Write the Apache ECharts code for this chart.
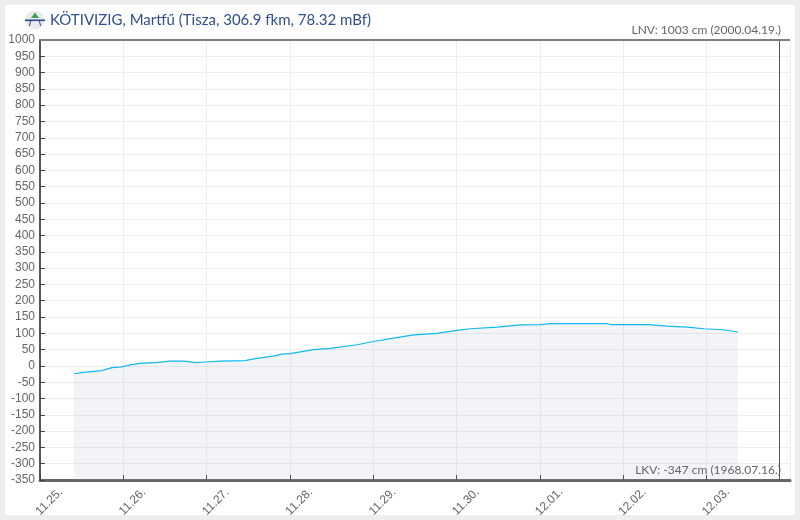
<!DOCTYPE html>
<html>
<head>
<meta charset="utf-8">
<style>
html, body { margin: 0; padding: 0; background: #eeeeee; }
#app { width: 800px; height: 520px; }
</style>
<script src="https://cdn.jsdelivr.net/npm/echarts@6/dist/echarts.min.js"></script>
</head>
<body>
<div id="app"></div>
<script>
// hours since 11.25. 00:00
var hours = [9.8, 12.5, 17.8, 20.7, 23.5, 26.4, 28.8, 34, 37.5, 41.3, 45, 47.6, 51.9, 59, 62.4, 67.2, 69.7, 72, 78.8, 83.6, 91.3, 96, 100.9, 107.6, 114.3, 120, 124, 131.6, 138.3, 144, 147, 163.3, 164.3, 175.3, 180.6, 186.4, 191.2, 196.8, 201];
// water level, cm
var levels = [-24, -20, -14.5, -5, -3, 4, 8, 11, 15, 15, 10, 12, 15, 16, 23, 30, 36, 38, 50, 54, 65, 75, 84, 95, 100, 109, 114, 119, 126, 127, 130, 130, 127, 127, 122, 119, 114, 111, 104];
var dayLabels = ['11.25.', '11.26.', '11.27.', '11.28.', '11.29.', '11.30.', '12.01.', '12.02.', '12.03.'];
var nowHour = 212.9;
var titleText = 'KÖTIVIZIG, Martfű (Tisza, 306.9 fkm, 78.32 mBf)';
var maxText = 'LNV: 1003 cm (2000.04.19.)';
var minText = 'LKV: -347 cm (1968.07.16.)';

var points = hours.map(function (h, i) { return [h, levels[i]]; });

var myChart = echarts.init(document.getElementById('app'));
myChart.setOption({
    animation: false,
    backgroundColor: '#eeeeee',
    textStyle: { fontFamily: 'Liberation Sans' },
    grid: { left: 40, right: 10, top: 40, bottom: 40 },
    xAxis: {
        type: 'value',
        min: 0,
        max: 216,
        interval: 24,
        axisLine: { onZero: false, lineStyle: { color: '#666666', width: 3 } },
        axisTick: { inside: true, length: 5, lineStyle: { color: '#444444' } },
        axisLabel: {
            rotate: 45,
            margin: 31,
            align: 'center',
            verticalAlign: 'middle',
            padding: [0, 0, 0, 26],
            color: '#666666',
            fontSize: 12,
            showMaxLabel: false,
            formatter: function (v) { return dayLabels[v / 24] || ''; }
        },
        splitLine: { lineStyle: { color: '#eeeeee' } }
    },
    yAxis: {
        type: 'value',
        min: -350,
        max: 1000,
        interval: 50,
        axisLine: { show: true, onZero: false, lineStyle: { color: '#555555', width: 2 } },
        axisTick: { inside: true, length: 5, lineStyle: { color: '#444444' } },
        axisLabel: {
            margin: 5,
            color: '#666666',
            fontSize: 12,
            showMinLabel: true,
            showMaxLabel: true,
            formatter: function (v) { return String(v); }
        },
        splitLine: { lineStyle: { color: '#eeeeee' } }
    },
    graphic: [
        { type: 'rect', z: -10, shape: { x: 5, y: 5, width: 790, height: 510 }, style: { fill: '#ffffff' } },
        { type: 'circle', shape: { cx: 35, cy: 20, r: 9.5 }, style: { fill: '#e9e9ee' } },
        { type: 'polygon', shape: { points: [[35, 12.5], [31, 18], [39, 18]] }, style: { fill: '#3aa655' } },
        { type: 'rect', shape: { x: 25, y: 19.5, width: 20, height: 1.6 }, style: { fill: '#2b4a8b' } },
        { type: 'polyline', shape: { points: [[29.5, 26], [30.5, 21]] }, style: { stroke: '#2b4a8b', lineWidth: 1 } },
        { type: 'polyline', shape: { points: [[40.5, 26], [39.5, 21]] }, style: { stroke: '#2b4a8b', lineWidth: 1 } },
        { type: 'text', x: 50, y: 13, style: { text: titleText, font: '15px Lato', fill: '#2f4f8f' } },
        { type: 'text', x: 781, y: 24, style: { text: maxText, font: '12px Lato', fill: '#666666', align: 'right' } },
        { type: 'text', x: 781, y: 464, z: 10, style: { text: minText, font: '12px Lato', fill: '#666666', align: 'right' } }
    ],
    series: [{
        type: 'line',
        data: points,
        showSymbol: false,
        lineStyle: { color: '#12b8f0', width: 1.2 },
        areaStyle: { color: '#a9b2ce', opacity: 0.15, origin: 'start' },
        markLine: {
            silent: true,
            symbol: 'none',
            label: { show: false },
            data: [
                { xAxis: nowHour, lineStyle: { color: '#555555', width: 1, type: 'solid' } },
                { yAxis: 1000, lineStyle: { color: '#808080', width: 2, type: 'solid' } }
            ]
        }
    }]
});
</script>
</body>
</html>
